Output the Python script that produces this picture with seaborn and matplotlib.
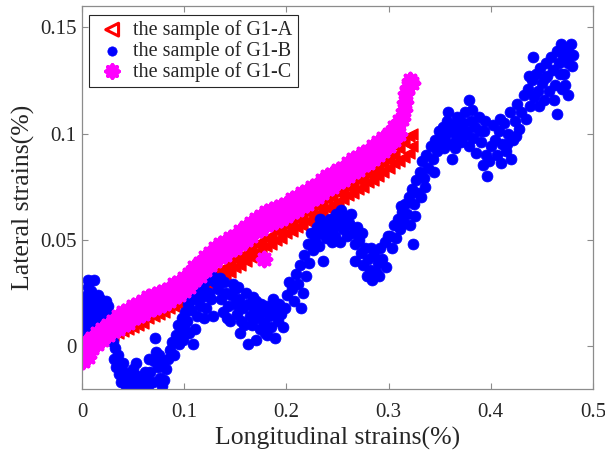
import matplotlib
matplotlib.use("Agg")
import matplotlib.pyplot as plt
import pandas as pd
import seaborn as sns

# ---------------- data ----------------
red_x = [
    0.000, 0.000, 0.005, 0.005, 0.010, 0.010, 0.015, 0.015, 0.020, 0.020,
    0.025, 0.025, 0.030, 0.030, 0.035, 0.035, 0.040, 0.040, 0.045, 0.045,
    0.050, 0.050, 0.055, 0.055, 0.060, 0.060, 0.065, 0.065, 0.070, 0.070,
    0.075, 0.075, 0.080, 0.080, 0.085, 0.085, 0.090, 0.090, 0.095, 0.095,
    0.100, 0.100, 0.105, 0.105, 0.110, 0.110, 0.115, 0.115, 0.120, 0.120,
    0.125, 0.125, 0.130, 0.130, 0.135, 0.135, 0.140, 0.140, 0.145, 0.145,
    0.150, 0.150, 0.155, 0.155, 0.160, 0.160, 0.165, 0.165, 0.170, 0.170,
    0.175, 0.175, 0.180, 0.180, 0.185, 0.185, 0.190, 0.190, 0.195, 0.195,
    0.200, 0.200, 0.205, 0.205, 0.210, 0.210, 0.215, 0.215, 0.220, 0.220,
    0.225, 0.225, 0.230, 0.230, 0.235, 0.235, 0.240, 0.240, 0.245, 0.245,
    0.250, 0.250, 0.255, 0.255, 0.260, 0.260, 0.265, 0.265, 0.270, 0.270,
    0.275, 0.275, 0.280, 0.280, 0.285, 0.285, 0.290, 0.290, 0.295, 0.295,
    0.300, 0.300, 0.305, 0.305, 0.310, 0.310, 0.315, 0.315, 0.320, 0.320,
    0.323, 0.323]
red_y = [
    0.001, -0.001, 0.002, 0.000, 0.004, 0.001, 0.005, 0.002, 0.006, 0.003,
    0.007, 0.004, 0.008, 0.005, 0.009, 0.006, 0.010, 0.007, 0.011, 0.008,
    0.012, 0.009, 0.014, 0.010, 0.015, 0.011, 0.016, 0.013, 0.017, 0.014,
    0.019, 0.015, 0.020, 0.016, 0.021, 0.018, 0.023, 0.019, 0.024, 0.020,
    0.025, 0.022, 0.027, 0.023, 0.028, 0.025, 0.030, 0.026, 0.031, 0.028,
    0.033, 0.029, 0.034, 0.031, 0.036, 0.032, 0.037, 0.034, 0.039, 0.035,
    0.041, 0.037, 0.042, 0.038, 0.044, 0.040, 0.046, 0.042, 0.048, 0.044,
    0.049, 0.045, 0.051, 0.047, 0.052, 0.048, 0.054, 0.050, 0.055, 0.051,
    0.057, 0.053, 0.058, 0.054, 0.060, 0.056, 0.061, 0.057, 0.063, 0.059,
    0.064, 0.060, 0.066, 0.062, 0.067, 0.063, 0.069, 0.065, 0.070, 0.066,
    0.072, 0.068, 0.073, 0.069, 0.075, 0.071, 0.076, 0.072, 0.078, 0.074,
    0.079, 0.075, 0.081, 0.077, 0.082, 0.078, 0.084, 0.080, 0.086, 0.082,
    0.088, 0.084, 0.090, 0.086, 0.093, 0.087, 0.096, 0.089, 0.099, 0.091,
    0.100, 0.094]

blue_x = [
    0.000, 0.002, 0.004, 0.003, 0.006, 0.005, 0.006, 0.006, 0.012, 0.009,
    0.010, 0.008, 0.011, 0.013, 0.015, 0.016, 0.018, 0.020, 0.021, 0.024,
    0.023, 0.026, 0.028, 0.027, 0.030, 0.001, 0.014, 0.018, 0.002, 0.008,
    0.032, 0.031, 0.033, 0.036, 0.038, 0.043, 0.046, 0.050, 0.053, 0.055,
    0.058, 0.060, 0.063, 0.065, 0.067, 0.070, 0.072, 0.071, 0.074, 0.076,
    0.078, 0.080, 0.082, 0.084, 0.086, 0.040, 0.048, 0.057, 0.062, 0.069,
    0.088, 0.090, 0.092, 0.094, 0.096, 0.098, 0.100, 0.101, 0.103, 0.104,
    0.106, 0.107, 0.109, 0.110, 0.112, 0.114, 0.116, 0.118, 0.120, 0.123,
    0.125, 0.127, 0.130, 0.109, 0.111, 0.113, 0.115, 0.128, 0.126, 0.121,
    0.133, 0.136, 0.139, 0.141, 0.143, 0.146, 0.148, 0.150, 0.152, 0.154,
    0.156, 0.158, 0.160, 0.162, 0.164, 0.162, 0.166, 0.168, 0.170, 0.172,
    0.174, 0.176, 0.178, 0.180, 0.181, 0.183, 0.185, 0.187, 0.189, 0.190,
    0.192, 0.195, 0.197, 0.145, 0.138, 0.155, 0.170, 0.135, 0.150, 0.184,
    0.199, 0.201, 0.203, 0.205, 0.207, 0.209, 0.211, 0.213, 0.214, 0.216,
    0.217, 0.219, 0.221, 0.222, 0.224, 0.226,
    0.228, 0.230, 0.232, 0.234, 0.236, 0.237, 0.239, 0.241, 0.243, 0.245,
    0.247, 0.249, 0.251, 0.253, 0.255, 0.257, 0.259, 0.261, 0.263, 0.265,
    0.267, 0.267, 0.269, 0.271, 0.273, 0.275, 0.277, 0.279, 0.280, 0.282,
    0.284, 0.286, 0.288, 0.290, 0.292, 0.294, 0.296, 0.297, 0.299, 0.248,
    0.301, 0.303, 0.305, 0.307, 0.309, 0.311, 0.313, 0.315, 0.316, 0.318,
    0.320, 0.321, 0.323, 0.324, 0.325, 0.327, 0.329, 0.331, 0.333, 0.335,
    0.337, 0.339, 0.341, 0.343, 0.345, 0.347, 0.349, 0.312, 0.326, 0.336,
    0.351, 0.353, 0.355, 0.357, 0.359, 0.361, 0.362, 0.364, 0.366, 0.367,
    0.369, 0.371, 0.373, 0.375, 0.377, 0.379, 0.379, 0.381, 0.383, 0.385,
    0.386, 0.388, 0.390, 0.392, 0.393, 0.395, 0.396, 0.398, 0.400, 0.370,
    0.402, 0.404, 0.406, 0.408, 0.410, 0.411, 0.413, 0.415, 0.417, 0.419,
    0.420, 0.422, 0.424, 0.426, 0.428, 0.430,
    0.432, 0.434, 0.436, 0.438, 0.440, 0.441, 0.442, 0.444, 0.446, 0.448,
    0.450, 0.452, 0.454, 0.455, 0.457, 0.459, 0.461, 0.463, 0.465, 0.465,
    0.467, 0.469, 0.471, 0.472, 0.474, 0.476, 0.478, 0.480, 0.476, 0.470,
    0.004, 0.010, 0.016, 0.019, 0.025, 0.007, 0.012,
    0.035, 0.041, 0.052, 0.066, 0.075, 0.079, 0.047,
    0.095, 0.099, 0.105, 0.117, 0.119, 0.124,
    0.142, 0.153, 0.159, 0.167, 0.175, 0.179, 0.186, 0.193,
    0.233, 0.244, 0.252, 0.258, 0.274, 0.283, 0.291,
    0.332, 0.344, 0.354, 0.358, 0.365, 0.374, 0.382, 0.389, 0.394,
    0.409, 0.416, 0.425, 0.437, 0.447, 0.453, 0.462, 0.468, 0.473, 0.477,
    0.479]
blue_y = [
    0.005, 0.009, 0.014, 0.018, 0.020, 0.024, 0.028, 0.031, 0.031, 0.026,
    0.021, 0.016, 0.012, 0.017, 0.014, 0.019, 0.022, 0.018, 0.013, 0.016,
    0.021, 0.012, 0.009, 0.005, 0.002, 0.012, 0.010, 0.008, 0.002, 0.007,
    -0.001, -0.006, -0.010, -0.013, -0.017, -0.019, -0.015, -0.011, -0.008, -0.014,
    -0.018, -0.020, -0.016, -0.019, -0.012, -0.007, -0.003, 0.004, -0.010, -0.015,
    -0.019, -0.016, -0.011, -0.006, -0.002, -0.008, -0.018, -0.020, -0.012, -0.017,
    0.002, -0.004, 0.005, 0.010, 0.006, 0.013, 0.009, 0.016, 0.012, 0.020,
    0.024, 0.017, 0.028, 0.022, 0.030, 0.026, 0.032, 0.028, 0.034, 0.031,
    0.035, 0.033, 0.030, 0.001, 0.008, 0.014, 0.019, 0.014, 0.022, 0.018,
    0.027, 0.022, 0.030, 0.025, 0.019, 0.024, 0.029, 0.020, 0.015, 0.022,
    0.012, 0.018, 0.025, 0.020, 0.014, 0.001, 0.010, 0.017, 0.021, 0.013,
    0.008, 0.016, 0.011, 0.019, 0.005, 0.014, 0.009, 0.022, 0.004, 0.017,
    0.012, 0.015, 0.009, 0.012, 0.016, 0.006, 0.003, 0.032, 0.027, 0.018,
    0.018, 0.024, 0.030, 0.027, 0.021, 0.034, 0.029, 0.038, 0.018, 0.025,
    0.043, 0.033, 0.048, 0.039, 0.053, 0.045,
    0.050, 0.056, 0.047, 0.053, 0.040, 0.058, 0.051, 0.055, 0.060, 0.049,
    0.056, 0.062, 0.058, 0.064, 0.055, 0.061, 0.052, 0.058, 0.062, 0.053,
    0.048, 0.040, 0.056, 0.050, 0.044, 0.038, 0.046, 0.033, 0.041, 0.036,
    0.031, 0.043, 0.035, 0.039, 0.046, 0.041, 0.049, 0.037, 0.052, 0.052,
    0.052, 0.046, 0.057, 0.051, 0.060, 0.055, 0.063, 0.058, 0.067, 0.062,
    0.070, 0.057, 0.074, 0.048, 0.067, 0.078, 0.072, 0.082, 0.087, 0.079,
    0.090, 0.084, 0.094, 0.088, 0.097, 0.092, 0.101, 0.066, 0.061, 0.075,
    0.096, 0.103, 0.099, 0.106, 0.101, 0.095, 0.088, 0.104, 0.099, 0.108,
    0.102, 0.096, 0.105, 0.110, 0.101, 0.116, 0.094, 0.106, 0.098, 0.103,
    0.091, 0.108, 0.096, 0.085, 0.101, 0.090, 0.080, 0.087, 0.094, 0.106,
    0.104, 0.097, 0.090, 0.101, 0.086, 0.095, 0.105, 0.092, 0.100, 0.110,
    0.088, 0.097, 0.106, 0.114, 0.102, 0.110,
    0.118, 0.107, 0.121, 0.113, 0.125, 0.136, 0.117, 0.128, 0.120, 0.131,
    0.124, 0.116, 0.133, 0.127, 0.120, 0.136, 0.130, 0.123, 0.109, 0.139,
    0.133, 0.142, 0.136, 0.128, 0.140, 0.133, 0.142, 0.137, 0.118, 0.121,
    0.022, 0.018, 0.024, 0.011, 0.019, 0.011, 0.006,
    -0.004, -0.012, -0.017, -0.006, -0.004, -0.008, -0.020,
    0.001, 0.003, 0.006, 0.023, 0.013, 0.025,
    0.013, 0.028, 0.010, 0.023, 0.020, 0.006, 0.015, 0.020,
    0.060, 0.054, 0.049, 0.057, 0.053, 0.046, 0.033,
    0.070, 0.082, 0.093, 0.110, 0.093, 0.099, 0.111, 0.101, 0.106,
    0.107, 0.095, 0.099, 0.127, 0.113, 0.126, 0.116, 0.128, 0.123, 0.138,
    0.132]

magenta_x = [
    0.001, 0.002, 0.004, 0.006, 0.008,
    0.010, 0.010, 0.015, 0.015, 0.020, 0.020, 0.025, 0.025, 0.030, 0.030,
    0.035, 0.035, 0.040, 0.040, 0.045, 0.045, 0.050, 0.050, 0.055, 0.055,
    0.060, 0.060, 0.065, 0.065, 0.070, 0.070, 0.075, 0.075, 0.080, 0.080,
    0.085, 0.085, 0.090, 0.090, 0.095, 0.095, 0.100, 0.100, 0.105, 0.105,
    0.110, 0.110, 0.115, 0.115, 0.120, 0.120, 0.125, 0.125, 0.130, 0.130,
    0.135, 0.135, 0.140, 0.140, 0.145, 0.145, 0.150, 0.150, 0.155, 0.155,
    0.160, 0.160, 0.165, 0.165, 0.170, 0.170, 0.175, 0.175, 0.180, 0.180,
    0.185, 0.185, 0.190, 0.190, 0.195, 0.195, 0.200, 0.200, 0.205, 0.205,
    0.210, 0.210, 0.215, 0.215, 0.220, 0.220, 0.225, 0.225, 0.230, 0.230,
    0.235, 0.235, 0.240, 0.240, 0.245, 0.245, 0.250, 0.250, 0.255, 0.255,
    0.260, 0.260, 0.265, 0.265, 0.270, 0.270, 0.275, 0.275, 0.280, 0.280,
    0.285, 0.285, 0.290, 0.290, 0.295, 0.295, 0.300, 0.300, 0.305, 0.305,
    0.310, 0.310, 0.313, 0.315, 0.316, 0.317, 0.319, 0.321, 0.323, 0.178]
magenta_y = [
    -0.007, -0.002, 0.002, -0.005, -0.001,
    0.004, -0.001, 0.006, 0.001, 0.008, 0.003, 0.010, 0.005, 0.012, 0.007,
    0.014, 0.008, 0.016, 0.010, 0.017, 0.011, 0.019, 0.013, 0.020, 0.014,
    0.021, 0.015, 0.023, 0.017, 0.024, 0.018, 0.025, 0.019, 0.026, 0.020,
    0.027, 0.021, 0.029, 0.023, 0.030, 0.024, 0.032, 0.026, 0.034, 0.028,
    0.037, 0.031, 0.039, 0.033, 0.042, 0.036, 0.044, 0.038, 0.046, 0.040,
    0.048, 0.042, 0.049, 0.043, 0.051, 0.045, 0.052, 0.046, 0.054, 0.048,
    0.056, 0.050, 0.058, 0.052, 0.060, 0.054, 0.061, 0.055, 0.063, 0.057,
    0.064, 0.058, 0.065, 0.059, 0.066, 0.060, 0.067, 0.061, 0.069, 0.063,
    0.070, 0.064, 0.072, 0.066, 0.073, 0.067, 0.075, 0.069, 0.076, 0.070,
    0.078, 0.072, 0.080, 0.074, 0.081, 0.075, 0.083, 0.077, 0.084, 0.078,
    0.086, 0.080, 0.088, 0.082, 0.089, 0.083, 0.091, 0.085, 0.092, 0.086,
    0.094, 0.088, 0.096, 0.090, 0.098, 0.092, 0.100, 0.094, 0.103, 0.097,
    0.106, 0.100, 0.107, 0.111, 0.115, 0.119, 0.122, 0.125, 0.124, 0.041]

series_labels = ["the sample of G1-A", "the sample of G1-B", "the sample of G1-C"]
x_ticks = [0, 0.1, 0.2, 0.3, 0.4, 0.5]
x_ticklabels = ["0", "0.1", "0.2", "0.3", "0.4", "0.5"]
y_ticks = [0, 0.05, 0.1, 0.15]
y_ticklabels = ["0", "0.05", "0.1", "0.15"]

# ---------------- styling ----------------
sns.set_style("ticks")
plt.rcParams["font.family"] = ["Liberation Serif", "DejaVu Serif"]

W, H = 605, 454
fig = plt.figure(figsize=(W / 100, H / 100), dpi=100)
L, R, T, B = 82, 593, 6, 389
ax = fig.add_axes([L / W, 1 - B / H, (R - L) / W, (B - T) / H])

df_a = pd.DataFrame({"x": red_x, "y": red_y})
df_b = pd.DataFrame({"x": blue_x, "y": blue_y})
df_c = pd.DataFrame({"x": magenta_x, "y": magenta_y})

sns.scatterplot(data=df_a, x="x", y="y", ax=ax, marker="<", s=62,
                color="#ff0000", edgecolor="#ff0000", linewidth=1.0,
                label=series_labels[0], legend=False)
sns.scatterplot(data=df_b, x="x", y="y", ax=ax, marker="o", s=62,
                color="#0000ff", edgecolor="#0000ff", linewidth=0.5,
                label=series_labels[1], legend=False)
sns.scatterplot(data=df_c, x="x", y="y", ax=ax, marker=(8, 2, 0), s=95,
                color="#ff00ff", linewidth=3.0,
                label=series_labels[2], legend=False)

ax.set_xlim(0, 0.5)
ax.set_ylim(-0.0202, 0.16)
ax.set_xticks(x_ticks)
ax.set_xticklabels(x_ticklabels)
ax.set_yticks(y_ticks)
ax.set_yticklabels(y_ticklabels)

axis_gray = "#8c8c8c"
for sp in ax.spines.values():
    sp.set_color(axis_gray)
    sp.set_linewidth(0.9)
ax.tick_params(direction="in", top=True, right=True, length=4.5, width=0.8,
               color=axis_gray, labelcolor="#262626", labelsize=15)
ax.tick_params(axis="x", pad=10)
ax.tick_params(axis="y", pad=4)

ax.set_xlabel("Longitudinal strains(%)", fontsize=18.5, color="#262626")
ax.set_ylabel("Lateral strains(%)", fontsize=18.5, color="#262626")
ax.xaxis.set_label_coords(0.5, -(427 - B) / (B - T))
ax.yaxis.set_label_coords(-(L - 35) / (R - L), 0.5)

handles = ax.collections[:3]
leg = ax.legend(handles, series_labels, loc="upper left",
                bbox_to_anchor=(89 / W, 1 - 15 / H), bbox_transform=fig.transFigure,
                borderaxespad=0, fontsize=14.5, frameon=True, fancybox=False,
                framealpha=1, edgecolor="#262626", borderpad=0.25,
                labelspacing=0.05, handlelength=1.8, handletextpad=0.15,
                scatterpoints=1)
leg.get_frame().set_linewidth(0.8)
h0 = leg.legend_handles[0]
h0.set_facecolor("none")
h0.set_linewidth(2.2)
h0.set_sizes([85])
leg.legend_handles[1].set_sizes([45])
leg.legend_handles[2].set_sizes([80])

fig.savefig("out.png", dpi=100)
